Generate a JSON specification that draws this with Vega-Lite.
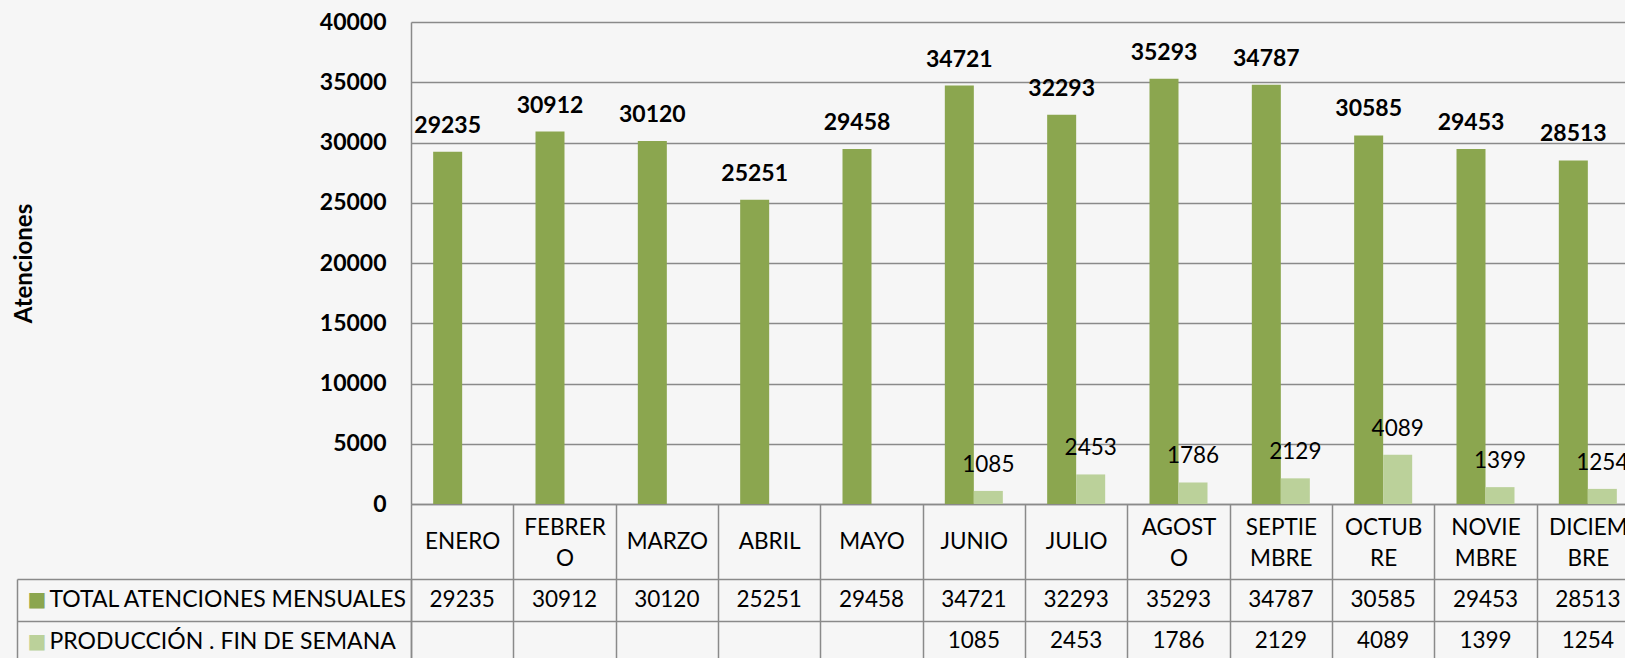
{
  "$schema": "https://vega.github.io/schema/vega-lite/v6.json",
  "background": "#f6f6f6",
  "padding": {"left": 12, "top": 11, "right": 0, "bottom": 0},
  "bounds": "flush",
  "spacing": 75,
  "config": {
    "view": {"stroke": null},
    "font": "Lato",
    "axis": {"labelColor": "black", "titleColor": "black"}
  },
  "data": {
    "values": [
      {"month": "ENERO", "series": "TOTAL ATENCIONES MENSUALES", "value": 29235},
      {"month": "FEBRERO", "series": "TOTAL ATENCIONES MENSUALES", "value": 30912},
      {"month": "MARZO", "series": "TOTAL ATENCIONES MENSUALES", "value": 30120},
      {"month": "ABRIL", "series": "TOTAL ATENCIONES MENSUALES", "value": 25251},
      {"month": "MAYO", "series": "TOTAL ATENCIONES MENSUALES", "value": 29458},
      {"month": "JUNIO", "series": "TOTAL ATENCIONES MENSUALES", "value": 34721},
      {"month": "JULIO", "series": "TOTAL ATENCIONES MENSUALES", "value": 32293},
      {"month": "AGOSTO", "series": "TOTAL ATENCIONES MENSUALES", "value": 35293},
      {"month": "SEPTIEMBRE", "series": "TOTAL ATENCIONES MENSUALES", "value": 34787},
      {"month": "OCTUBRE", "series": "TOTAL ATENCIONES MENSUALES", "value": 30585},
      {"month": "NOVIEMBRE", "series": "TOTAL ATENCIONES MENSUALES", "value": 29453},
      {"month": "DICIEMBRE", "series": "TOTAL ATENCIONES MENSUALES", "value": 28513},
      {"month": "JUNIO", "series": "PRODUCCIÓN . FIN DE SEMANA", "value": 1085},
      {"month": "JULIO", "series": "PRODUCCIÓN . FIN DE SEMANA", "value": 2453},
      {"month": "AGOSTO", "series": "PRODUCCIÓN . FIN DE SEMANA", "value": 1786},
      {"month": "SEPTIEMBRE", "series": "PRODUCCIÓN . FIN DE SEMANA", "value": 2129},
      {"month": "OCTUBRE", "series": "PRODUCCIÓN . FIN DE SEMANA", "value": 4089},
      {"month": "NOVIEMBRE", "series": "PRODUCCIÓN . FIN DE SEMANA", "value": 1399},
      {"month": "DICIEMBRE", "series": "PRODUCCIÓN . FIN DE SEMANA", "value": 1254}
    ]
  },
  "vconcat": [
    {
      "width": 1228,
      "height": 482,
      "encoding": {
        "x": {
          "field": "month", "type": "nominal", "sort": null,
          "scale": {"domain": ["ENERO","FEBRERO","MARZO","ABRIL","MAYO","JUNIO","JULIO","AGOSTO","SEPTIEMBRE","OCTUBRE","NOVIEMBRE","DICIEMBRE"], "paddingInner": 0, "paddingOuter": 0},
          "axis": {
            "title": null, "orient": "bottom", "labelAngle": 0,
            "labelExpr": "datum.value == 'FEBRERO' ? ['FEBRER','O'] : datum.value == 'AGOSTO' ? ['AGOST','O'] : datum.value == 'SEPTIEMBRE' ? ['SEPTIE','MBRE'] : datum.value == 'OCTUBRE' ? ['OCTUB','RE'] : datum.value == 'NOVIEMBRE' ? ['NOVIE','MBRE'] : datum.value == 'DICIEMBRE' ? ['DICIEM','BRE'] : datum.value",
            "labelFontSize": 22.5,
            "labelPadding": {"condition": {"test": "indexof(['FEBRERO','AGOSTO','SEPTIEMBRE','OCTUBRE','NOVIEMBRE','DICIEMBRE'], datum.value) >= 0", "value": -52}, "value": -38},
            "labelBaseline": "middle", "labelLineHeight": 31.5,
            "labelOverlap": false, "labelBound": false, "labelLimit": 0,
            "ticks": true, "tickBand": "extent", "tickSize": 75, "tickColor": "#8a8a8a", "tickWidth": 1.5,
            "domain": true, "domainColor": "#8a8a8a", "domainWidth": 1.5, "grid": false
          }
        },
        "xOffset": {"field": "series", "type": "nominal", "scale": {"domain": ["TOTAL ATENCIONES MENSUALES", "PRODUCCIÓN . FIN DE SEMANA"], "paddingInner": 0, "paddingOuter": 0.764}},
        "y": {
          "field": "value", "type": "quantitative",
          "scale": {"domain": [0, 40000], "nice": false},
          "axis": {
            "values": [0,5000,10000,15000,20000,25000,30000,35000,40000], "format": "d",
            "labelFontSize": 23, "labelFontWeight": "bold", "labelPadding": 25,
            "ticks": false, "domain": true, "domainColor": "#8a8a8a", "domainWidth": 1.5,
            "grid": true, "gridColor": "#8a8a8a", "gridWidth": 1.5,
            "title": "Atenciones", "titleFontSize": 24, "titleFontWeight": "bold", "titlePadding": 283
          }
        }
      },
      "layer": [
        {
          "mark": {"type": "bar"},
          "encoding": {
            "color": {"field": "series", "type": "nominal", "scale": {"domain": ["TOTAL ATENCIONES MENSUALES", "PRODUCCIÓN . FIN DE SEMANA"], "range": ["#8BA64F", "#BBD19A"]}, "legend": null}
          }
        },
        {
          "transform": [{"filter": "datum.series === 'TOTAL ATENCIONES MENSUALES'"}],
          "mark": {"type": "text", "fontSize": 23, "fontWeight": "bold", "baseline": "alphabetic", "dy": -19, "color": "black"},
          "encoding": {"text": {"field": "value", "type": "quantitative", "format": "d"}}
        },
        {
          "transform": [{"filter": "datum.series !== 'TOTAL ATENCIONES MENSUALES'"}],
          "mark": {"type": "text", "fontSize": 22.5, "fontWeight": "normal", "baseline": "alphabetic", "dy": -19, "color": "black"},
          "encoding": {"text": {"field": "value", "type": "quantitative", "format": "d"}}
        }
      ]
    },
    {
      "width": 1228,
      "height": 83,
      "encoding": {
        "x": {
          "field": "month", "type": "nominal", "sort": null,
          "scale": {"domain": ["ENERO","FEBRERO","MARZO","ABRIL","MAYO","JUNIO","JULIO","AGOSTO","SEPTIEMBRE","OCTUBRE","NOVIEMBRE","DICIEMBRE"], "paddingInner": 0, "paddingOuter": 0},
          "axis": {"title": null, "orient": "top", "labels": false, "ticks": false, "domain": false, "grid": true, "tickBand": "extent", "gridColor": "#8a8a8a", "gridWidth": 1.5}
        }
      },
      "layer": [
        {
          "mark": {"type": "text", "fontSize": 22.5, "color": "black"},
          "encoding": {
            "y": {
              "field": "series", "type": "nominal",
              "scale": {"domain": ["TOTAL ATENCIONES MENSUALES", "PRODUCCIÓN . FIN DE SEMANA"], "paddingInner": 0, "paddingOuter": 0},
              "axis": {
                "title": null, "orient": "left", "labelAlign": "left", "labelBaseline": "middle", "labelPadding": -32,
                "labelFontSize": 23, "labelLimit": 0,
                "ticks": true, "tickBand": "extent", "tickSize": 394, "tickColor": "#8a8a8a", "tickWidth": 1.5,
                "domain": true, "domainColor": "#8a8a8a", "domainWidth": 1.5,
                "grid": true, "gridColor": "#8a8a8a", "gridWidth": 1.5
              }
            },
            "text": {"field": "value", "type": "quantitative", "format": "d"}
          }
        },
        {
          "mark": {"type": "text", "text": ""},
          "encoding": {
            "y": {
              "field": "series", "type": "nominal",
              "scale": {"domain": ["TOTAL ATENCIONES MENSUALES", "PRODUCCIÓN . FIN DE SEMANA"], "paddingInner": 0, "paddingOuter": 0},
              "axis": {
                "title": null, "orient": "left", "offset": 394,
                "labelExpr": "'■'", "labelFont": "DejaVu Sans", "labelFontSize": 20,
                "labelAlign": "left", "labelBaseline": "middle", "labelPadding": -10,
                "labelColor": {"condition": {"test": "datum.value === 'TOTAL ATENCIONES MENSUALES'", "value": "#8BA64F"}, "value": "#BBD19A"},
                "ticks": false, "grid": false,
                "domain": true, "domainColor": "#8a8a8a", "domainWidth": 1.5
              }
            }
          }
        }
      ],
      "resolve": {"scale": {"y": "independent"}, "axis": {"y": "independent"}}
    }
  ]
}
